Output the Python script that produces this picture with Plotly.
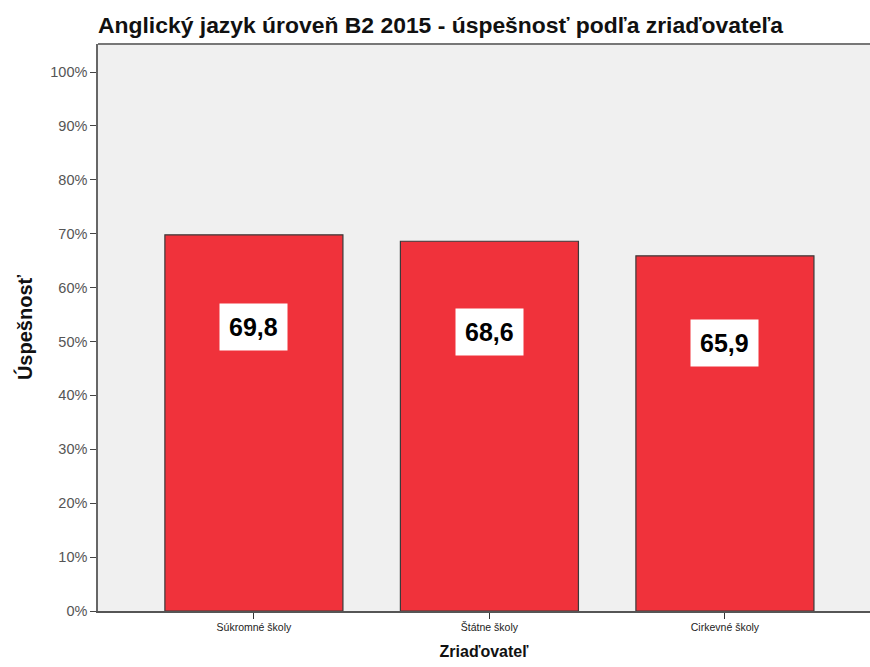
import plotly.graph_objects as go

categories = ["Súkromné školy", "Štátne školy", "Cirkevné školy"]
values = [69.8, 68.6, 65.9]
value_labels = ["69,8", "68,6", "65,9"]
tick_vals = [0, 10, 20, 30, 40, 50, 60, 70, 80, 90, 100]
tick_text = [f"{v}%" for v in tick_vals]

fig = go.Figure()
fig.add_trace(go.Bar(
    x=categories, y=values,
    marker=dict(color="#f0323b", line=dict(color="#3a3a3a", width=1.2)),
    hoverinfo="skip",
))

for c, v, t in zip(categories, values, value_labels):
    fig.add_annotation(
        x=c, y=v * 0.755, text=f"<b>{t}</b>", showarrow=False,
        font=dict(family="Liberation Sans, Arial", size=25, color="black"),
        bgcolor="white", borderpad=9,
    )

fig.update_layout(
    width=870, height=667,
    margin=dict(l=98, r=0, t=44, b=56),
    paper_bgcolor="white", plot_bgcolor="#f0f0f0",
    bargap=0.244, showlegend=False,
    title=dict(text="<b>Anglický jazyk úroveň B2 2015 - úspešnosť podľa zriaďovateľa</b>",
               x=98 / 870, xanchor="left", y=1 - 25 / 667, yanchor="middle",
               font=dict(family="Liberation Sans, Arial", size=22.9, color="#111")),
    xaxis=dict(
        range=[-0.662, 2.616], showgrid=False, zeroline=False,
        ticks="outside", ticklen=6, tickcolor="#333", tickwidth=1.2,
        tickfont=dict(family="Liberation Sans, Arial", size=10.5, color="#222"),
        title=dict(text="<b>Zriaďovateľ</b>", standoff=13,
                   font=dict(family="Liberation Sans, Arial", size=16, color="#111")),
        showline=True, linecolor="#555", linewidth=1.5, mirror=False,
    ),
    yaxis=dict(
        range=[0, 105.2], tickvals=tick_vals, ticktext=tick_text,
        showgrid=False, zeroline=False,
        ticks="outside", ticklen=6, tickcolor="#444", tickwidth=1.2,
        tickfont=dict(family="Liberation Sans, Arial", size=14.5, color="#555"),
        title=dict(text="<b>Úspešnosť</b>", standoff=12,
                   font=dict(family="Liberation Sans, Arial", size=20, color="#111")),
        showline=True, linecolor="#666", linewidth=1.5,
    ),
)
# top border of plot area
fig.add_shape(type="line", xref="paper", yref="paper", x0=0, x1=1, y0=1, y1=1,
              line=dict(color="#777", width=2))

fig.write_html("out.html", config={"displayModeBar": False},
               post_script="document.body.style.margin='0';")
